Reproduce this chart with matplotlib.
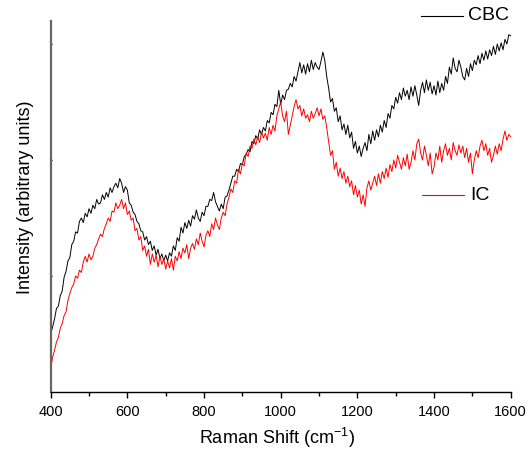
import matplotlib
matplotlib.use("Agg")
import matplotlib.pyplot as plt
import numpy as np
from matplotlib.lines import Line2D

plt.rcParams["font.family"] = ["Liberation Sans", "DejaVu Sans"]

# Raman shift axis, 5 cm-1 step
shift = np.arange(400, 1601, 5)

cbc = [
    0.50, 0.56, 0.63, 0.72, 0.74, 0.83, 0.87, 0.99, 1.04, 1.13,   # 400-445
    1.16, 1.27, 1.30, 1.38, 1.37, 1.47, 1.50, 1.46, 1.54, 1.51,   # 450-495
    1.58, 1.54, 1.61, 1.58, 1.66, 1.62, 1.63, 1.70, 1.66, 1.72,   # 500-545
    1.68, 1.76, 1.72, 1.77, 1.80, 1.76, 1.84, 1.80, 1.72, 1.77,   # 550-595
    1.74, 1.63, 1.61, 1.55, 1.53, 1.47, 1.45, 1.39, 1.38, 1.31,   # 600-645
    1.34, 1.27, 1.30, 1.22, 1.26, 1.18, 1.23, 1.15, 1.19, 1.13,   # 650-695
    1.18, 1.13, 1.20, 1.17, 1.26, 1.22, 1.33, 1.30, 1.42, 1.37,   # 700-745
    1.46, 1.41, 1.48, 1.43, 1.52, 1.49, 1.57, 1.50, 1.47, 1.55,   # 750-795
    1.52, 1.60, 1.60, 1.66, 1.65, 1.72, 1.64, 1.60, 1.56, 1.62,   # 800-845
    1.58, 1.68, 1.69, 1.74, 1.80, 1.86, 1.86, 1.92, 1.90, 1.97,   # 850-895
    1.96, 2.03, 2.05, 2.09, 2.07, 2.16, 2.14, 2.21, 2.18, 2.26,   # 900-945
    2.22, 2.28, 2.25, 2.34, 2.32, 2.41, 2.39, 2.48, 2.46, 2.60,   # 950-995
    2.48, 2.56, 2.52, 2.60, 2.61, 2.66, 2.63, 2.72, 2.68, 2.76,   # 1000-1045
    2.84, 2.75, 2.82, 2.74, 2.83, 2.76, 2.86, 2.78, 2.84, 2.80,   # 1050-1095
    2.78, 2.85, 2.93, 2.86, 2.72, 2.62, 2.50, 2.53, 2.42, 2.45,   # 1100-1145
    2.33, 2.38, 2.26, 2.31, 2.22, 2.30, 2.19, 2.24, 2.10, 2.16,   # 1150-1195
    2.06, 2.12, 2.03, 2.10, 2.15, 2.08, 2.22, 2.14, 2.25, 2.17,   # 1200-1245
    2.26, 2.20, 2.30, 2.24, 2.34, 2.28, 2.40, 2.36, 2.47, 2.44,   # 1250-1295
    2.54, 2.49, 2.58, 2.52, 2.62, 2.55, 2.60, 2.52, 2.63, 2.55,   # 1300-1345
    2.64, 2.56, 2.47, 2.60, 2.67, 2.58, 2.69, 2.60, 2.67, 2.57,   # 1350-1395
    2.64, 2.56, 2.68, 2.58, 2.66, 2.60, 2.72, 2.66, 2.80, 2.74,   # 1400-1445
    2.88, 2.79, 2.76, 2.86, 2.80, 2.72, 2.69, 2.79, 2.72, 2.83,   # 1450-1495
    2.77, 2.86, 2.82, 2.90, 2.83, 2.92, 2.86, 2.94, 2.87, 2.95,   # 1500-1545
    2.90, 2.98, 2.91, 3.00, 2.94, 3.01, 2.95, 3.04, 3.00, 3.08,   # 1550-1595
    3.07,
]

ic = [
    0.20, 0.30, 0.36, 0.43, 0.47, 0.55, 0.59, 0.66, 0.69, 0.79,   # 400-445
    0.85, 0.90, 0.93, 1.00, 0.98, 1.05, 1.03, 1.12, 1.17, 1.12,   # 450-495
    1.19, 1.14, 1.17, 1.24, 1.27, 1.32, 1.36, 1.34, 1.41, 1.45,   # 500-545
    1.50, 1.47, 1.56, 1.55, 1.63, 1.58, 1.61, 1.66, 1.58, 1.63,   # 550-595
    1.53, 1.56, 1.48, 1.50, 1.39, 1.41, 1.31, 1.34, 1.22, 1.26,   # 600-645
    1.17, 1.23, 1.10, 1.19, 1.12, 1.18, 1.08, 1.17, 1.10, 1.15,   # 650-695
    1.06, 1.13, 1.07, 1.15, 1.05, 1.17, 1.13, 1.21, 1.15, 1.24,   # 700-745
    1.20, 1.27, 1.15, 1.24, 1.28, 1.23, 1.32, 1.27, 1.37, 1.30,   # 750-795
    1.25, 1.35, 1.39, 1.34, 1.45, 1.40, 1.50, 1.44, 1.40, 1.50,   # 800-845
    1.55, 1.52, 1.62, 1.68, 1.75, 1.72, 1.82, 1.80, 1.92, 1.88,   # 850-895
    1.97, 1.95, 2.06, 2.03, 2.12, 2.10, 2.18, 2.13, 2.20, 2.15,   # 900-945
    2.24, 2.19, 2.23, 2.17, 2.28, 2.22, 2.30, 2.25, 2.38, 2.44,   # 950-995
    2.50, 2.38, 2.33, 2.42, 2.22, 2.30, 2.38, 2.46, 2.52, 2.44,   # 1000-1045
    2.47, 2.38, 2.44, 2.36, 2.39, 2.33, 2.42, 2.36, 2.40, 2.45,   # 1050-1095
    2.38, 2.44, 2.35, 2.38, 2.28, 2.16, 2.04, 2.08, 1.92, 1.98,   # 1100-1145
    1.86, 1.93, 1.84, 1.90, 1.80, 1.86, 1.77, 1.82, 1.70, 1.78,   # 1150-1195
    1.68, 1.74, 1.62, 1.70, 1.60, 1.76, 1.82, 1.74, 1.80, 1.86,   # 1200-1245
    1.78, 1.88, 1.80, 1.90, 1.84, 1.93, 1.85, 1.96, 1.90, 2.00,   # 1250-1295
    1.93, 2.04, 1.98, 1.92, 2.02, 1.95, 2.05, 1.92, 1.98, 2.08,   # 1300-1345
    2.00, 2.14, 2.18, 2.06, 2.00, 2.12, 2.04, 1.95, 2.06, 1.88,   # 1350-1395
    1.94, 2.06, 2.00, 2.12, 1.98, 2.08, 2.14, 2.04, 2.10, 2.00,   # 1400-1445
    2.15, 2.08, 2.04, 2.13, 2.06, 2.12, 2.02, 2.10, 1.98, 2.06,   # 1450-1495
    1.88, 2.00, 2.08, 2.02, 2.12, 2.17, 2.08, 2.14, 2.04, 2.10,   # 1500-1545
    1.98, 2.04, 2.12, 2.05, 2.14, 2.08, 2.18, 2.25, 2.17, 2.22,   # 1550-1595
    2.20,
]

names = ["CBC", "IC"]
colors = ["black", "red"]

W, H = 531, 451
fig = plt.figure(figsize=(W / 100, H / 100), dpi=100)
ax = fig.add_axes([50.7 / W, 1 - 392 / H, 460 / W, 371 / H])

ax.plot(shift, cbc, color=colors[0], lw=0.7)
ax.plot(shift, ic, color=colors[1], lw=0.7)

ax.set_xlim(400, 1600)
ax.set_ylim(0, 3.198)
ax.set_xticks(np.arange(400, 1601, 200))
ax.set_xticks(np.arange(500, 1600, 200), minor=True)
ax.set_yticks([1, 2, 3])
ax.set_yticklabels([])
ax.tick_params(axis="x", which="major", length=4.5, width=1, labelsize=10.5, pad=4.5)
ax.tick_params(axis="x", which="minor", length=3, width=1)
ax.tick_params(axis="y", which="major", length=2, width=1, direction="inout")

for s in ["top", "right"]:
    ax.spines[s].set_visible(False)
ax.spines["left"].set_color("#666666")
ax.spines["left"].set_linewidth(1.6)
ax.spines["bottom"].set_linewidth(1.0)

fig.text(276.5 / W, 1 - 438 / H, r"Raman Shift (cm$\mathregular{^{-1}}$)", ha="center", va="center", fontsize=13)
fig.text(25.5 / W, 1 - 197 / H, "Intensity (arbitrary units)", ha="center", va="center",
         rotation=90, fontsize=13)

# separate legend entries
for name, col, (x0, x1, yy, tx) in zip(names, colors, [(421, 463, 16, 468), (422, 464, 195, 470)]):
    fig.add_artist(Line2D([x0 / W, x1 / W], [1 - yy / H, 1 - yy / H], color=col, lw=0.8,
                          transform=fig.transFigure))
    fig.text(tx / W, 1 - yy / H, name, ha="left", va="center", fontsize=14)

fig.savefig("out.png", dpi=100)
